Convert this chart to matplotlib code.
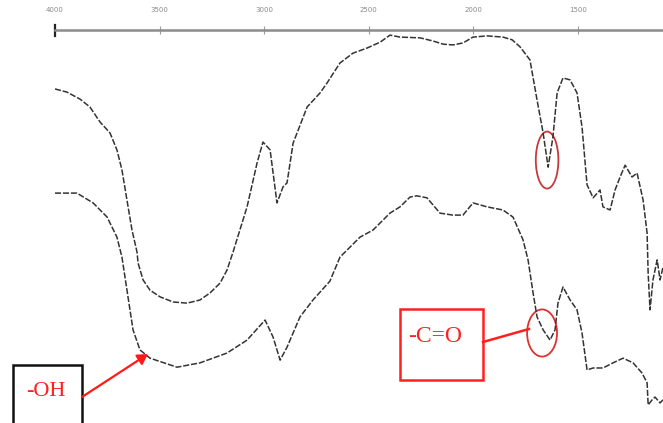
import matplotlib
matplotlib.use("Agg")
import matplotlib.pyplot as plt
from matplotlib.patches import Ellipse, Rectangle, FancyArrowPatch
from matplotlib.lines import Line2D

# Wavenumber axis ticks (cm^-1)
tick_positions = [4000, 3500, 3000, 2500, 2000, 1500]
tick_labels = ["4000", "3500", "3000", "2500", "2000", "1500"]

# Upper spectrum: wavenumber (cm^-1) and transmittance (a.u.)
wn_upper = [4000, 3943, 3880, 3833, 3785, 3737, 3704, 3680, 3656, 3632, 3608,
            3603, 3579, 3546, 3498, 3436, 3369, 3307, 3259, 3211, 3178, 3149,
            3082, 3034, 3006, 2972, 2939, 2910, 2891, 2862,
            2795, 2733, 2700, 2638, 2576, 2509, 2446, 2399, 2351, 2255, 2193,
            2145, 2098, 2050, 2002, 1935, 1859, 1815, 1777, 1730, 1696, 1667,
            1643, 1620, 1600, 1572, 1538, 1505, 1481, 1457, 1428, 1395, 1381,
            1347, 1323, 1299, 1275, 1242, 1218, 1189, 1170, 1165, 1156, 1142,
            1122, 1108, 1094]
t_upper = [85.0, 84.2, 82.4, 80.4, 76.6, 73.8, 69.5, 64.4, 56.7, 49.1, 43.5,
           40.7, 36.4, 33.8, 32.1, 30.8, 30.5, 31.3, 33.1, 35.6, 38.9, 43.5,
           55.0, 66.2, 71.5, 69.5, 56.0, 60.1, 61.1, 71.2,
           80.4, 84.0, 86.5, 91.6, 94.1, 95.4, 96.9, 98.7, 98.2, 98.0, 97.2,
           96.4, 96.2, 96.7, 98.2, 98.5, 98.2, 97.5, 95.7, 92.4, 82.2, 73.8,
           65.1, 72.8, 84.0, 87.8, 87.3, 84.0, 75.3, 60.6, 57.3, 59.3, 55.0,
           54.2, 59.3, 62.6, 65.6, 62.6, 63.6, 56.7, 48.3, 38.2, 28.8, 36.4,
           41.5, 36.4, 39.7]

# Lower spectrum
wn_lower = [4000, 3895, 3818, 3751, 3704, 3680, 3656, 3627, 3594, 3546, 3417,
            3307, 3178, 3082, 2996, 2958, 2924, 2891, 2862, 2829, 2767, 2686,
            2638, 2542, 2480, 2399, 2351, 2303, 2270, 2222, 2160, 2098, 2050,
            2002, 1935, 1859, 1811, 1763, 1739, 1715, 1696, 1667, 1634, 1610,
            1596, 1572, 1538, 1505, 1481, 1457, 1428, 1381, 1333, 1285, 1237,
            1194, 1170, 1165, 1146, 1132, 1108, 1094]
t_lower = [58.5, 58.5, 56.0, 52.4, 47.3, 42.2, 33.8, 23.7, 18.6, 16.5, 14.2,
           15.3, 17.8, 21.1, 26.2, 21.9, 16.0, 19.3, 22.9, 27.0, 31.3, 36.1,
           42.2, 47.3, 49.1, 53.4, 55.0, 57.5, 57.8, 57.3, 53.4, 52.9, 52.9,
           56.0, 55.0, 54.2, 52.4, 46.6, 41.5, 33.1, 27.0, 23.7, 21.1, 23.7,
           30.5, 34.6, 31.3, 28.8, 22.9, 13.5, 14.0, 14.0, 15.3, 16.5, 15.3,
           12.7, 10.2, 4.6, 5.9, 6.6, 5.1, 5.9]

# Carbonyl band markers (centre wavenumber, transmittance)
co_upper = (1648, 66.9)
co_lower = (1672, 22.9)

W, H = 663, 423
fig = plt.figure(figsize=(W / 100, H / 100), dpi=100)
fig.patch.set_facecolor("white")


def fx(x):
    return x / W


def fy(y):
    return 1 - y / H


ax = fig.add_axes([fx(55), 0, fx(608), 393 / H])
ax.set_xlim(4000, 1094)
ax.set_ylim(0, 100)
ax.set_facecolor("none")

line_style = dict(color="#333333", lw=1.1, ls=(0, (4, 1.2)), solid_capstyle="butt")
ax.plot(wn_upper, t_upper, **line_style)
ax.plot(wn_lower, t_lower, **line_style)

for side in ("left", "right", "bottom"):
    ax.spines[side].set_visible(False)
ax.spines["top"].set_color("#8c8c8c")
ax.spines["top"].set_linewidth(1.8)
ax.yaxis.set_visible(False)
ax.xaxis.tick_top()
ax.set_xticks(tick_positions)
ax.set_xticklabels(tick_labels)
ax.tick_params(axis="x", direction="inout", length=6, width=0.8, color="#9a9a9a",
               labelsize=5, labelcolor="#8a8a8a", pad=9)

# Dark start marker at 4000 cm^-1
ax.add_line(Line2D([4000, 4000], [98.6, 101.2], color="#222222", lw=1.6, clip_on=False))

# Ellipses around the carbonyl bands
ax.add_patch(Ellipse(co_upper, width=108, height=14.5, fill=False,
                     edgecolor="#c83a3a", lw=1.3))
ax.add_patch(Ellipse(co_lower, width=143, height=12.0, fill=False,
                     edgecolor="#e03030", lw=1.3))

# -C=O label box with connector
fig.add_artist(Rectangle((fx(400), fy(380)), fx(83), 71 / H, transform=fig.transFigure,
                         fill=True, facecolor="white", edgecolor="#ff2020", lw=1.8))
fig.text(fx(435), fy(336), "-C=O", color="#ff2020", fontsize=17,
         family="Liberation Serif", ha="center", va="center")
fig.add_artist(Line2D([fx(483), fx(529)], [fy(342), fy(329)], transform=fig.transFigure,
                      color="#ff2020", lw=1.8))

# -OH label box with arrow
fig.add_artist(Rectangle((fx(13), fy(430)), fx(69), 65 / H, transform=fig.transFigure,
                         fill=True, facecolor="white", edgecolor="#111111", lw=1.8))
fig.text(fx(46), fy(391), "-OH", color="#ff2020", fontsize=16,
         family="Liberation Serif", ha="center", va="center")
fig.add_artist(FancyArrowPatch((fx(82), fy(397)), (fx(148), fy(354)),
                               transform=fig.transFigure,
                               arrowstyle="-|>,head_length=6,head_width=3.5",
                               color="#ff1a1a", lw=1.6, shrinkA=0, shrinkB=0))

fig.savefig("out.png", dpi=100, facecolor="white")
